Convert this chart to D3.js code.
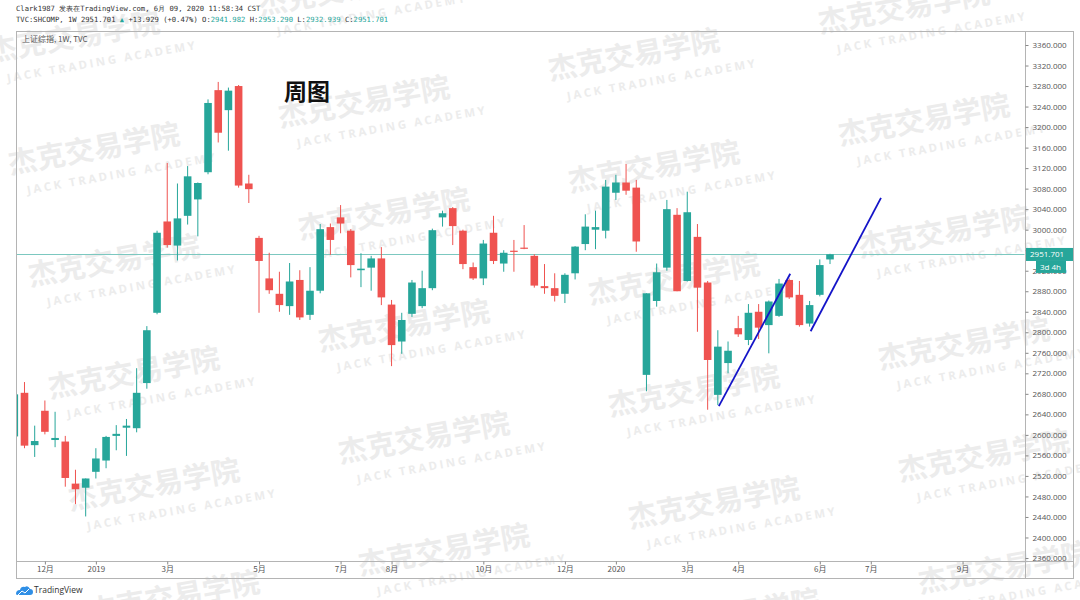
<!DOCTYPE html>
<html><head><meta charset="utf-8">
<script src="https://cdn.jsdelivr.net/npm/d3@7"></script>
<style>body{margin:0;background:#fff;} svg{display:block;}</style>
</head><body>
<svg id="chart" width="1080" height="600"></svg>
<script>
// ---------- DATA ----------
const weeks = ["2018-11-12","2018-11-19","2018-11-26","2018-12-03","2018-12-10","2018-12-17","2018-12-24","2018-12-31",
"2019-01-07","2019-01-14","2019-01-21","2019-01-28","2019-02-11","2019-02-18","2019-02-25","2019-03-04","2019-03-11",
"2019-03-18","2019-03-25","2019-04-01","2019-04-08","2019-04-15","2019-04-22","2019-04-29","2019-05-06","2019-05-13",
"2019-05-20","2019-05-27","2019-06-03","2019-06-10","2019-06-17","2019-06-24","2019-07-01","2019-07-08","2019-07-15",
"2019-07-22","2019-07-29","2019-08-05","2019-08-12","2019-08-19","2019-08-26","2019-09-02","2019-09-09","2019-09-16",
"2019-09-23","2019-09-30","2019-10-07","2019-10-14","2019-10-21","2019-10-28","2019-11-04","2019-11-11","2019-11-18",
"2019-11-25","2019-12-02","2019-12-09","2019-12-16","2019-12-23","2019-12-30","2020-01-06","2020-01-13","2020-01-20",
"2020-02-03","2020-02-10","2020-02-17","2020-02-24","2020-03-02","2020-03-09","2020-03-16","2020-03-23","2020-03-30",
"2020-04-06","2020-04-13","2020-04-20","2020-04-27","2020-05-04","2020-05-11","2020-05-18","2020-05-25","2020-06-01","2020-06-08"];
const opens = [2597,2682,2580,2647,2590,2587,2505,2497,2528,2550,2598,2614,2613,2701,2838,3016,2969,3027,3059,3112,3272,3233,3280,3090,2984,2905,2875,2851,2902,2834,2881,3005,3024,2998,2921,2926,2944,2854,2782,2836,2851,2886,3024,3042,2998,2927,2905,2994,2934,2959,2965,2949,2890,2886,2875,2915,2972,3000,2998,3072,3092,3082,2717,2861,2926,3029,2900,2986,2897,2678,2740,2808,2785,2840,2814,2832,2902,2873,2817,2873,2942];
const highs = [2703,2703,2618,2667,2645,2598,2532,2515,2574,2598,2619,2631,2730,2812,2998,3130,3090,3124,3092,3254,3288,3277,3282,3107,2988,2955,2918,2935,2921,2927,3011,3012,3048,3001,2954,2949,2966,2863,2838,2902,2920,3002,3037,3044,3000,2936,2980,3027,2960,2980,3009,2952,2933,2915,2915,2968,3030,3037,3097,3107,3128,3097,2876,2934,3058,3042,3074,3011,2900,2804,2782,2832,2855,2855,2862,2904,2905,2900,2861,2942,2953];
const lows = [2590,2574,2557,2601,2576,2499,2465,2441,2515,2535,2570,2559,2605,2690,2835,2965,2940,3010,2987,3108,3170,3154,3082,3052,2838,2875,2840,2834,2824,2824,2876,2951,2993,2907,2888,2881,2853,2734,2758,2830,2847,2882,3006,2970,2923,2902,2892,2933,2918,2918,2962,2887,2875,2860,2857,2903,2960,2962,2983,3058,3068,2957,2685,2850,2920,2880,2899,2801,2649,2658,2720,2791,2775,2787,2759,2830,2865,2811,2811,2870,2933];
const closes = [2679,2579,2588,2606,2594,2516,2494,2515,2554,2596,2602,2618,2682,2804,2994,2970,3022,3104,3091,3247,3189,3271,3086,3079,2939,2882,2853,2899,2829,2881,3001,2980,3012,2931,2924,2944,2868,2775,2824,2897,2886,2999,3032,3007,2933,2905,2973,2939,2955,2958,2964,2891,2886,2871,2912,2967,3006,3005,3084,3092,3076,2977,2876,2917,3040,2880,3034,2887,2746,2772,2764,2796,2838,2809,2860,2895,2868,2814,2853,2931,2952];
const tickDates  = ["2018-12-03","2019-01-07","2019-03-04","2019-05-06","2019-07-01","2019-08-05","2019-10-07","2019-12-02","2020-01-06","2020-03-02","2020-04-06","2020-06-01","2020-07-06","2020-09-07"];
const tickLabels = ["12月","2019","3月","5月","7月","8月","10月","12月","2020","3月","4月","6月","7月","9月"];
const priceTicks = d3.range(2360, 3361, 40);
// trend lines drawn on the chart: [week index, price]
const trendA = [[69.1, 2656],[76.1, 2914]];
const trendB = [[78.1, 2802],[85.0, 3062]];
const lastPrice = 2951.701;
const headerLine1 = "Clark1987 发表在TradingView.com, 6月 09, 2020 11:58:34 CST";
const chartTitle = "周图";
const paneLegend = "上证综指, 1W, TVC";

// ---------- LAYOUT ----------
const UP="#26a69a", DOWN="#ef5350", BORDER="#b4b4b4";
const P={left:16, top:31, right:1025, bottom:561, axisRight:1073, axisBottom:578};
const svg=d3.select("#chart");
const x=d3.scaleLinear().domain([0,80]).range([14.3,830]);
const y=d3.scaleLinear().domain([2360,3360]).range([558,45]);
const DAY=86400000;
function idxOf(ds){const i=weeks.indexOf(ds); if(i>=0) return i;
  return weeks.length-1 + Math.round((new Date(ds)-new Date(weeks[weeks.length-1]))/(7*DAY));}

// watermark (behind)
const wm=svg.append("g").attr("class","watermark");
for(let c=0;c<4;c++){for(let r=-1;r<6;r++){
  const wx=10+270*c+20*r, wy=174-47*c+112*r;
  const g=wm.append("g").attr("transform",`translate(${wx},${wy}) rotate(-10)`);
  g.append("text").attr("x",0).attr("y",0).text("杰克交易学院")
   .attr("font-family","'Noto Sans CJK SC'").attr("font-weight",700).attr("font-size",29).attr("fill","#ececec");
  g.append("text").attr("x",14).attr("y",23).text("JACK TRADING ACADEMY")
   .attr("font-family","'Open Sans',sans-serif").attr("font-weight",700).attr("font-size",11.5)
   .attr("letter-spacing",2.6).attr("fill","#ececec");
}}

// header
const hdr=svg.append("g").attr("font-family","'DejaVu Sans Mono',monospace").attr("font-size",7.2).attr("fill","#333");
hdr.append("text").attr("x",16).attr("y",10.5).text(headerLine1);
const l2=hdr.append("text").attr("x",16).attr("y",21.5);
[["TVC:SHCOMP, 1W 2951.701 ","#333"],["▲","#26a69a"],[" +13.929 (+0.47%) O:","#333"],["2941.982",UP],[" H:","#333"],["2953.290",UP],[" L:","#333"],["2932.939",UP],[" C:","#333"],["2951.701",UP]]
 .forEach(([t,c])=>l2.append("tspan").attr("fill",c).text(t));

// clip
svg.append("defs").append("clipPath").attr("id","pc").append("rect")
  .attr("x",P.left+0.5).attr("y",P.top+0.5).attr("width",P.right-P.left-1).attr("height",P.bottom-P.top-1);
const plotG=svg.append("g").attr("clip-path","url(#pc)");

// price line
plotG.append("line").attr("x1",P.left).attr("x2",P.right).attr("y1",Math.round(y(lastPrice))+0.5).attr("y2",Math.round(y(lastPrice))+0.5)
  .attr("stroke","#7cc8c0").attr("stroke-width",1);

// candles
const data=weeks.map((w,i)=>({i,o:opens[i],h:highs[i],l:lows[i],c:closes[i]}));
const bw=7.6;
const cg=plotG.selectAll("g.c").data(data).join("g").attr("class","c");
cg.append("line").attr("x1",d=>x(d.i)).attr("x2",d=>x(d.i)).attr("y1",d=>y(d.h)).attr("y2",d=>y(d.l))
  .attr("stroke",d=>d.c>=d.o?UP:DOWN).attr("stroke-width",1);
cg.append("rect").attr("x",d=>x(d.i)-bw/2).attr("width",bw)
  .attr("y",d=>y(Math.max(d.o,d.c))).attr("height",d=>Math.max(1.2,Math.abs(y(d.o)-y(d.c))))
  .attr("fill",d=>d.c>=d.o?UP:DOWN);

// trend lines
const ln=d3.line().x(d=>x(d[0])).y(d=>y(d[1]));
[trendA,trendB].forEach(t=>plotG.append("path").attr("d",ln(t)).attr("stroke","#1414c8").attr("stroke-width",1.8).attr("fill","none"));

// title & legend
svg.append("text").attr("x",284).attr("y",99.5).text(chartTitle).attr("font-family","'Noto Sans CJK SC'").attr("font-weight",700)
  .attr("font-size",23).attr("fill","#111");
svg.append("text").attr("x",22).attr("y",42).text(paneLegend).attr("font-family","'Noto Sans CJK SC','Open Sans'")
  .attr("font-size",8).attr("fill","#555");

// borders
const bd=svg.append("g").attr("stroke",BORDER).attr("stroke-width",1).attr("fill","none");
bd.append("rect").attr("x",P.left+0.5).attr("y",P.top+0.5).attr("width",P.axisRight-P.left).attr("height",P.axisBottom-P.top);
bd.append("line").attr("x1",P.right+0.5).attr("x2",P.right+0.5).attr("y1",P.top).attr("y2",P.axisBottom);
bd.append("line").attr("x1",P.left).attr("x2",P.axisRight).attr("y1",P.bottom+0.5).attr("y2",P.bottom+0.5);

// x axis
const xa=svg.append("g").attr("transform",`translate(0,${P.bottom+0.5})`)
  .call(d3.axisBottom(x).tickValues(tickDates.map(idxOf)).tickFormat((d,i)=>tickLabels[i]).tickSize(3).tickPadding(2));
xa.select(".domain").remove();
xa.selectAll("line").attr("stroke","#888");
xa.selectAll("text").attr("font-family","'Noto Sans CJK SC','Open Sans'").attr("font-size",8).attr("fill","#555");

// y axis
const ya=svg.append("g").attr("transform",`translate(${P.right+0.5},0)`)
  .call(d3.axisRight(y).tickValues(priceTicks).tickFormat(d3.format(".3f")).tickSize(3).tickPadding(4));
ya.select(".domain").remove();
ya.selectAll("line").attr("stroke","#888");
ya.selectAll("text").attr("font-family","'Open Sans',sans-serif").attr("font-size",8).attr("fill","#555");

// price label
const py=y(lastPrice);
svg.append("rect").attr("x",P.right+1).attr("y",py-6.5).attr("width",47).attr("height",13).attr("fill",UP);
svg.append("text").attr("x",P.right+5).attr("y",py+3).text(d3.format(".3f")(lastPrice))
  .attr("font-family","'Open Sans',sans-serif").attr("font-size",8).attr("fill","#fff");
svg.append("rect").attr("x",P.right+11).attr("y",py+6.5).attr("width",30).attr("height",12).attr("fill",UP);
svg.append("text").attr("x",P.right+15).attr("y",py+15.5).text("3d 4h")
  .attr("font-family","'Open Sans',sans-serif").attr("font-size",8).attr("fill","#fff");

// TradingView logo
const lg=svg.append("g").attr("transform","translate(16,585)");
lg.append("path").attr("d","M0,9 Q0,5 4,5 Q5,1 9,2 Q12,0 14,4 Q17,4 17,7 Q17,10 14,10 L2,10 Q0,10 0,9 Z").attr("fill","#2f8fe6");
lg.append("path").attr("d","M2,10 L6,6 L9,8 L13,4").attr("stroke","#fff").attr("stroke-width",1).attr("fill","none");
svg.append("text").attr("x",34).attr("y",593).text("TradingView").attr("font-family","'Open Sans',sans-serif")
  .attr("font-size",8.5).attr("fill","#333");
</script>
</body></html>
